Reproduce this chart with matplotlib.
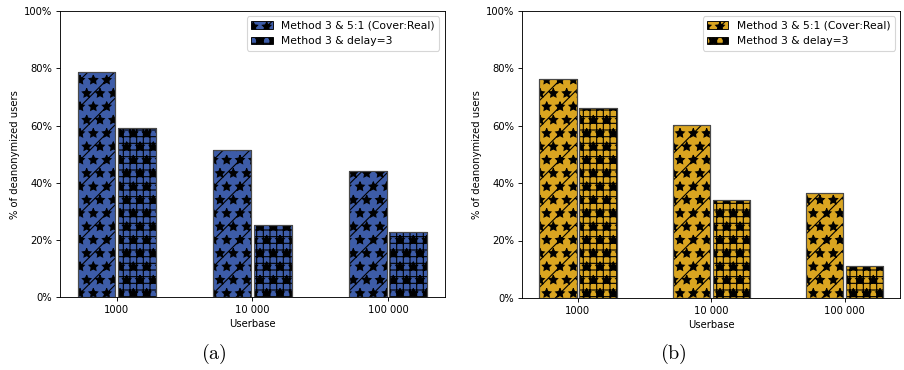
import numpy as np
import matplotlib.pyplot as plt
from matplotlib.ticker import PercentFormatter

plt.rcParams['mathtext.fontset'] = 'cm'

userbase = ['1000', '10 000', '100 000']
labels = ['Method 3 & 5:1 (Cover:Real)', 'Method 3 & delay=3']

# % of deanonymized users per panel
cover_a = [78.8, 51.3, 44.0]
delay_a = [59.0, 25.2, 22.6]
cover_b = [76.3, 60.2, 36.5]
delay_b = [66.3, 34.1, 11.2]

panels = [
    (cover_a, delay_a, '#3d5ca8', '(a)'),
    (cover_b, delay_b, '#daa520', '(b)'),
]

fig = plt.figure(figsize=(11.3, 4.625), dpi=80)
axes = [fig.add_axes([0.0664, 0.197, 0.4256, 0.773]),
        fig.add_axes([0.5775, 0.195, 0.4185, 0.775])]

x = np.arange(len(userbase))
w = 0.28
for ax, (cov, dly, col, tag) in zip(axes, panels):
    for off, vals, h, lab in [(-0.15, cov, '/*', labels[0]),
                              (0.15, dly, '++*', labels[1])]:
        # hatch in black, outline drawn again on top in grey
        ax.bar(x + off, vals, w, color=col, edgecolor='black', linewidth=0.8,
               hatch=h, label=lab)
        ax.bar(x + off, vals, w, fill=False, edgecolor='#4a4a4a', linewidth=1.1)
    ax.set_xticks(x)
    ax.set_xticklabels(userbase, fontsize=9)
    ax.set_xlabel('Userbase', fontsize=9)
    ax.set_ylabel('% of deanonymized users', fontsize=9)
    ax.set_ylim(0, 100)
    ax.yaxis.set_major_formatter(PercentFormatter(decimals=0))
    ax.tick_params(axis='y', labelsize=9)
    ax.legend(loc='upper right', fontsize=9.7)
    pos = ax.get_position()
    fig.text(pos.x0 + pos.width * 0.4, 0.03, r'$\mathrm{' + tag + '}$',
             fontsize=18, ha='center')

fig.savefig('out.png', dpi=80)
